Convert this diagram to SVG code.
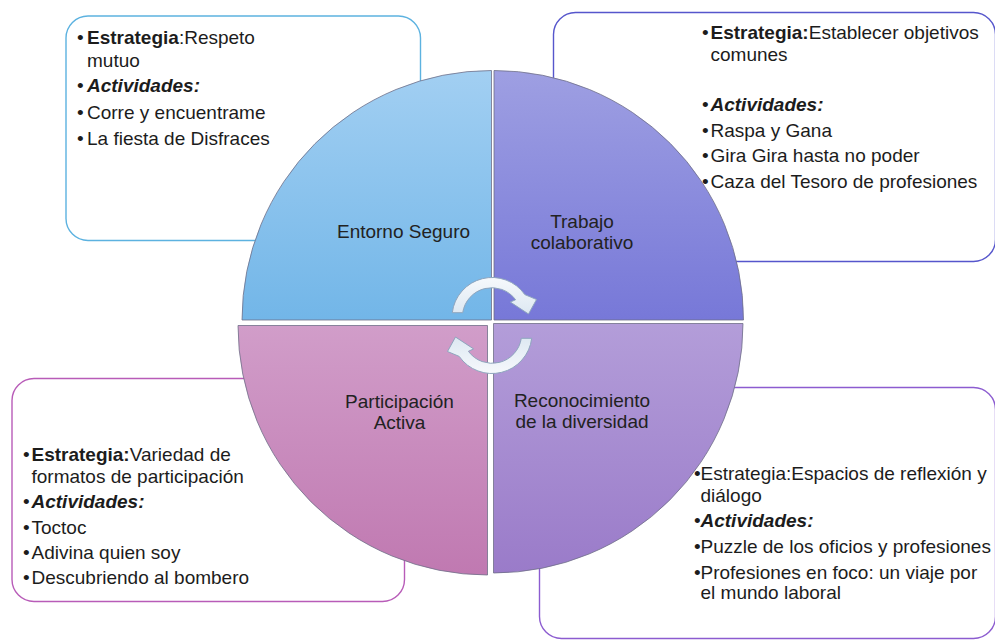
<svg xmlns="http://www.w3.org/2000/svg" width="995" height="642" viewBox="0 0 995 642">
<style>
.box{fill:#ffffff;stroke-width:1.4}
.q{stroke:#6f6f88;stroke-width:1;stroke-opacity:.8}
.t{font-family:"Liberation Sans",Arial,sans-serif;font-size:19px;fill:#1c1c1c}
.bd{font-weight:bold}
.bi{font-weight:bold;font-style:italic}
.lbl{font-family:"Liberation Sans",Arial,sans-serif;font-size:19px;fill:#222;text-anchor:middle}
.arr{fill:url(#gArr);stroke:#8ea5be;stroke-width:1}
</style>
<defs>
<linearGradient id="gTL" x1="0" y1="0" x2="0" y2="1"><stop offset="0" stop-color="#a2cff2"/><stop offset="1" stop-color="#72b6e8"/></linearGradient>
<linearGradient id="gTR" x1="0" y1="0" x2="0" y2="1"><stop offset="0" stop-color="#9e9fe2"/><stop offset="1" stop-color="#7778d8"/></linearGradient>
<linearGradient id="gBL" x1="0" y1="0" x2="0" y2="1"><stop offset="0" stop-color="#d19dc9"/><stop offset="1" stop-color="#c079b1"/></linearGradient>
<linearGradient id="gBR" x1="0" y1="0" x2="0" y2="1"><stop offset="0" stop-color="#b39dd9"/><stop offset="1" stop-color="#9a7bc9"/></linearGradient>
<linearGradient id="gArr" x1="0" y1="0" x2="0" y2="1"><stop offset="0" stop-color="#f6f9fc"/><stop offset="1" stop-color="#dde8f2"/></linearGradient>
</defs>

<g id="box-entorno">
<rect class="box" x="66" y="16" width="354.5" height="224.5" rx="22" stroke="#5cb2e0"/>
<text class="t" y="44"><tspan x="77">•</tspan><tspan x="87" class="bd">Estrategia</tspan><tspan>:Respeto</tspan></text>
<text class="t" x="87" y="67">mutuo</text>
<text class="t" y="92"><tspan x="77">•</tspan><tspan x="87" class="bi">Actividades:</tspan></text>
<text class="t" y="119"><tspan x="77">•</tspan><tspan x="87">Corre y encuentrame</tspan></text>
<text class="t" y="145"><tspan x="77">•</tspan><tspan x="87">La fiesta de Disfraces</tspan></text>
</g>

<g id="box-trabajo">
<rect class="box" x="553.5" y="12.5" width="442" height="249" rx="22" stroke="#5656cc"/>
<text class="t" y="39"><tspan x="702">•</tspan><tspan x="710.5" class="bd">Estrategia:</tspan><tspan>Establecer objetivos</tspan></text>
<text class="t" x="710.5" y="61">comunes</text>
<text class="t" y="111"><tspan x="702">•</tspan><tspan x="710.5" class="bi">Actividades:</tspan></text>
<text class="t" y="136.5"><tspan x="702">•</tspan><tspan x="710.5">Raspa y Gana</tspan></text>
<text class="t" y="162"><tspan x="702">•</tspan><tspan x="710.5">Gira Gira hasta no poder</tspan></text>
<text class="t" y="188"><tspan x="702">•</tspan><tspan x="710.5">Caza del Tesoro de profesiones</tspan></text>
</g>

<g id="box-participacion">
<rect class="box" x="12" y="378.5" width="392.5" height="223" rx="22" stroke="#b85cb8"/>
<text class="t" y="461"><tspan x="23">•</tspan><tspan x="31.5" class="bd">Estrategia:</tspan><tspan>Variedad de</tspan></text>
<text class="t" x="31.5" y="483">formatos de participación</text>
<text class="t" y="507.5"><tspan x="23">•</tspan><tspan x="31.5" class="bi">Actividades:</tspan></text>
<text class="t" y="534"><tspan x="23">•</tspan><tspan x="31.5">Toctoc</tspan></text>
<text class="t" y="558.5"><tspan x="23">•</tspan><tspan x="31.5">Adivina quien soy</tspan></text>
<text class="t" y="583.5"><tspan x="23">•</tspan><tspan x="31.5">Descubriendo al bombero</tspan></text>
</g>

<g id="box-diversidad">
<rect class="box" x="539.5" y="387.5" width="456" height="251" rx="22" stroke="#8c5cd0"/>
<text class="t" y="480"><tspan x="694">•</tspan><tspan x="700.5">Estrategia:Espacios de reflexión y</tspan></text>
<text class="t" x="700.5" y="501.5">diálogo</text>
<text class="t" y="527"><tspan x="694">•</tspan><tspan x="700.5" class="bi">Actividades:</tspan></text>
<text class="t" y="553"><tspan x="694">•</tspan><tspan x="700.5">Puzzle de los oficios y profesiones</tspan></text>
<text class="t" y="578.5"><tspan x="694">•</tspan><tspan x="700.5">Profesiones en foco: un viaje por</tspan></text>
<text class="t" x="700.5" y="599">el mundo laboral</text>
</g>

<g id="node-entorno">
<path class="q" fill="url(#gTL)" d="M491.5,320 L242,320 A249.5,249.5 0 0 1 491.5,70.5 Z"/>
<text class="lbl" x="403.5" y="238">Entorno Seguro</text>
</g>
<g id="node-trabajo">
<path class="q" fill="url(#gTR)" d="M494,320 L494,70.5 A249.5,249.5 0 0 1 743.5,320 Z"/>
<text class="lbl" x="582" y="228">Trabajo</text>
<text class="lbl" x="582" y="249">colaborativo</text>
</g>
<g id="node-participacion">
<path class="q" fill="url(#gBL)" d="M487.5,325.5 L487.5,575 A249.5,249.5 0 0 1 238,325.5 Z"/>
<text class="lbl" x="399.5" y="408">Participación</text>
<text class="lbl" x="399.5" y="429">Activa</text>
</g>
<g id="node-diversidad">
<path class="q" fill="url(#gBR)" d="M493.5,323.5 L743,323.5 A249.5,249.5 0 0 1 493.5,573 Z"/>
<text class="lbl" x="582" y="407">Reconocimiento</text>
<text class="lbl" x="582" y="427.5">de la diversidad</text>
</g>

<g id="connectors">
<path class="arr" d="M452.3,312.7 A40,40 0 0 1 524.8,294.6 L536.5,299.5 L528.5,314 L510.4,302.1 L515.6,299.7 A29.5,29.5 0 0 0 462.7,312.7 Z"/>
<path class="arr" transform="rotate(180 492 325.5)" d="M452.3,312.7 A40,40 0 0 1 524.8,294.6 L536.5,299.5 L528.5,314 L510.4,302.1 L515.6,299.7 A29.5,29.5 0 0 0 462.7,312.7 Z"/>
</g>
</svg>
